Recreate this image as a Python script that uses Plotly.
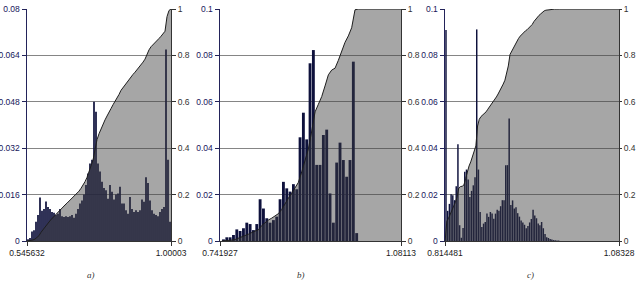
import numpy as np
import plotly.graph_objects as go

# ---------------- data ----------------
# panel a) histogram (relative frequency) and axis extents
a_vals = [0.0006, 0.001, 0.0033, 0.0037, 0.0066, 0.009, 0.015, 0.0104, 0.011, 0.0136,
          0.0117, 0.011, 0.010, 0.0097, 0.009, 0.0094, 0.011, 0.0085, 0.0083, 0.0085,
          0.0083, 0.0085, 0.009, 0.008, 0.0094, 0.011, 0.0129, 0.014, 0.016, 0.0193,
          0.0233, 0.0267, 0.028, 0.048, 0.0446, 0.0267, 0.024, 0.0204, 0.0183, 0.0175,
          0.0146, 0.0193, 0.017, 0.0143, 0.016, 0.0164, 0.0187, 0.0129, 0.0129, 0.0106,
          0.0094, 0.0152, 0.011, 0.010, 0.0106, 0.010, 0.0106, 0.0143, 0.0135, 0.022,
          0.020, 0.014, 0.0106, 0.0094, 0.009, 0.0085, 0.010, 0.011, 0.0117, 0.066,
          0.028, 0.0066]
a_min, a_max = 0.545632, 1.00003
a_xticks = ["0.545632", "1.00003"]
a_left_ticks = [0, 0.016, 0.032, 0.048, 0.064, 0.08]
a_left_labels = ["0", "0.016", "0.032", "0.048", "0.064", "0.08"]

# panel b)
b_vals = [0.0007, 0.0016, 0.0016, 0.0026, 0.005, 0.0043, 0.0055, 0.0079, 0.0073, 0.0047,
          0.0073, 0.018, 0.014, 0.0098, 0.0079, 0.009, 0.0105, 0.018, 0.0255, 0.0227,
          0.0213, 0.0245, 0.0223, 0.0447, 0.0553, 0.0438, 0.0766, 0.0823, 0.0328, 0.0328,
          0.0457, 0.048, 0.0205, 0.0079, 0.0338, 0.0424, 0.0349, 0.0277, 0.0349, 0.0773,
          0.0034]
b_min, b_max = 0.741927, 1.08113
b_xticks = ["0.741927", "1.08113"]

# panel c)
c_vals = [0.0909, 0.013, 0.016, 0.0201, 0.0197, 0.0176, 0.0236, 0.0417, 0.0068, 0.0014,
          0.0056, 0.0298, 0.0308, 0.0265, 0.019, 0.0216, 0.024, 0.0275, 0.0912, 0.0308,
          0.0125, 0.006, 0.0075, 0.0082, 0.0118, 0.0104, 0.0125, 0.0118, 0.0096, 0.0118,
          0.0135, 0.013, 0.015, 0.0176, 0.0176, 0.0327, 0.0327, 0.0528, 0.0155, 0.0175,
          0.014, 0.0145, 0.012, 0.0105, 0.0088, 0.008, 0.007, 0.0055, 0.0065, 0.008,
          0.0095, 0.0135, 0.011, 0.0098, 0.0075, 0.0068, 0.0082, 0.0055, 0.003, 0.0016,
          0.0013, 0.0009, 0.0006, 0.0004, 0.0003, 0.0002, 0.0002]
c_min, c_max = 0.814481, 1.08328
c_xticks = ["0.814481", "1.08328"]

bc_left_ticks = [0, 0.02, 0.04, 0.06, 0.08, 0.1]
bc_left_labels = ["0", "0.02", "0.04", "0.06", "0.08", "0.1"]
right_ticks = [0, 0.2, 0.4, 0.6, 0.8, 1]
right_labels = ["0", "0.2", "0.4", "0.6", "0.8", "1"]
panel_names = ["a)", "b)", "c)"]

# ---------------- layout config ----------------
W, H = 639, 283
x_dom_px = [(27, 171), (220, 401), (445, 619)]
y_top_px, y_bot_px = 9, 241
# bin geometry (start of first bin, bin width) for each histogram
bins = [
    (a_min, (a_max - a_min) / len(a_vals)),
    (b_min + 0.0034, 0.00624),
    (c_min + 0.0002, 0.002638),
]

panels = [
    (a_vals, a_min, a_max, a_xticks, a_left_ticks, a_left_labels, 0.08),
    (b_vals, b_min, b_max, b_xticks, bc_left_ticks, bc_left_labels, 0.1),
    (c_vals, c_min, c_max, c_xticks, bc_left_ticks, bc_left_labels, 0.1),
]

FONT = "Liberation Sans"
BAR_COLOR = "#0e113c"
FILL = "rgba(61,61,61,0.46)"
GRID = "#858585"

fig = go.Figure()
y_dom = [1 - y_bot_px / H, 1 - y_top_px / H]

for i, (vals, xmin, xmax, xt, lt, ll, ymax) in enumerate(panels):
    n = i + 1
    xa = "x" if n == 1 else f"x{n}"
    ya = "y" if n == 1 else f"y{n}"
    yr = f"y{n + 3}"
    start, bw = bins[i]
    v = np.array(vals)
    centers = start + (np.arange(len(v)) + 0.5) * bw
    edges = start + np.arange(len(v) + 1) * bw
    cum = np.concatenate([[0.0], np.cumsum(v) / v.sum()])
    cx = np.concatenate([edges, [xmax]])
    cy = np.concatenate([cum, [1.0]])

    fig.add_trace(go.Bar(x=centers, y=v, width=bw * 0.86, marker=dict(color=BAR_COLOR,
                         line=dict(width=0)), xaxis=xa, yaxis=ya, hoverinfo="skip"))
    fig.add_trace(go.Scatter(x=cx, y=cy, mode="lines", fill="tozeroy", fillcolor=FILL,
                             line=dict(color="#1e1e1e", width=1), xaxis=xa, yaxis=yr,
                             hoverinfo="skip"))

    d = [x_dom_px[i][0] / W, x_dom_px[i][1] / W]
    xkey = "xaxis" if n == 1 else f"xaxis{n}"
    ykey = "yaxis" if n == 1 else f"yaxis{n}"
    rkey = f"yaxis{n + 3}"
    layout_upd = {
        xkey: dict(domain=d, anchor=ya, range=[xmin, xmax], tickvals=[xmin, xmax],
                   ticktext=xt, showgrid=False, zeroline=False, showline=True,
                   linecolor="#333333", linewidth=1, ticks="outside", ticklen=4,
                   tickcolor="#333333", tickfont=dict(family=FONT, size=8.5, color="#1a1a1a"),
                   automargin=False, fixedrange=True),
        ykey: dict(domain=y_dom, anchor=xa, range=[0, ymax], tickvals=lt, ticktext=ll,
                   showgrid=True, gridcolor=GRID, gridwidth=1, zeroline=False,
                   showline=True, linecolor="#23235a", linewidth=1.5, ticks="outside",
                   ticklen=4, tickcolor="#23235a",
                   tickfont=dict(family=FONT, size=8.5, color="#16165a"),
                   automargin=False, fixedrange=True),
        rkey: dict(domain=y_dom, anchor=xa, overlaying=ya, side="right", range=[0, 1],
                   tickvals=right_ticks, ticktext=right_labels, showgrid=False,
                   zeroline=False, showline=True, linecolor="#333333", linewidth=1,
                   ticks="outside", ticklen=2 if n == 3 else 4, tickcolor="#333333",
                   tickfont=dict(family=FONT, size=8.5, color="#333333"),
                   automargin=False, fixedrange=True),
    }
    fig.update_layout(**layout_upd)
    fig.add_annotation(text="<i>" + panel_names[i] + "</i>", xref="paper", yref="paper",
                       x=[91, 301, 530][i] / W, y=1 - 275 / H, showarrow=False,
                       font=dict(family="Liberation Serif", size=9, color="#333333"),
                       xanchor="center", yanchor="middle")

fig.update_layout(width=W, height=H, margin=dict(l=0, r=0, t=0, b=0),
                  plot_bgcolor="white", paper_bgcolor="white", showlegend=False,
                  barmode="overlay")

fig.write_html("out.html", config={"displayModeBar": False, "staticPlot": True},
               post_script="document.body.style.margin='0';")
